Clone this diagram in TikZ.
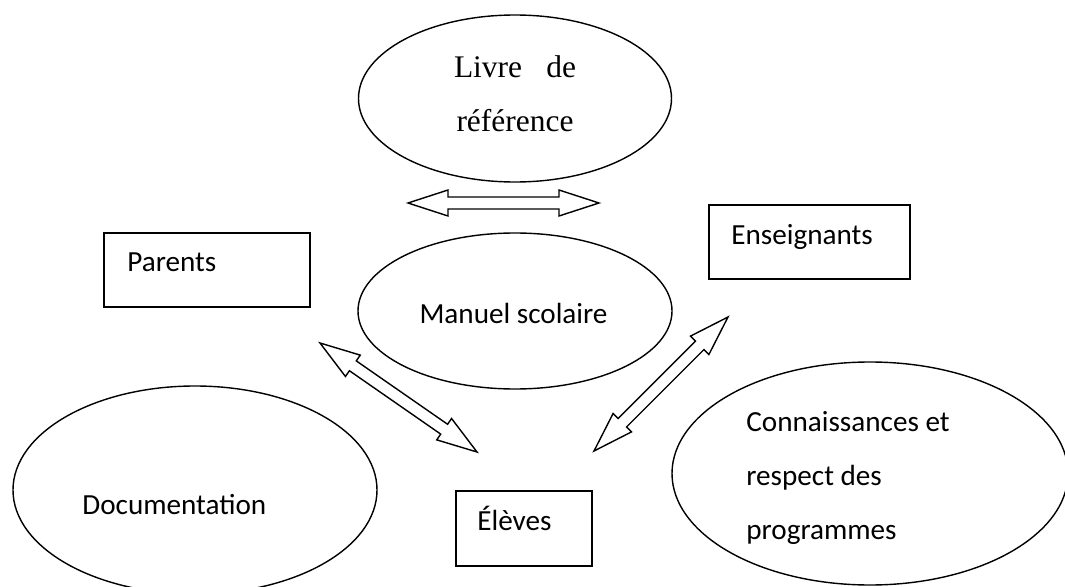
\documentclass[tikz,border=0pt]{standalone}
\usepackage{fontspec}
\setmainfont{Carlito}
\newfontfamily\seriffont{Liberation Serif}
\usetikzlibrary{shapes.geometric, calc}

\tikzset{
    bubble/.style={draw, ellipse, line width=0.8pt, inner sep=0pt},
    box/.style={draw, rectangle, line width=0.8pt, inner sep=0pt},
    lbl/.style={inner sep=0pt, font=\fontsize{16.6}{30.7}\selectfont},
    hollow/.style={draw, line width=0.8pt, line join=miter},
}

\begin{document}
\begin{tikzpicture}[x=0.2mm, y=-0.2mm]
        \useasboundingbox (0,0) rectangle (1065,587);

        \node[bubble, minimum width=62.6mm, minimum height=33.4mm] (ref) at (515,98.5) {};
        \node[bubble, minimum width=62.8mm, minimum height=31.2mm] (manuel) at (515,311) {};
        \node[bubble, minimum width=72.8mm, minimum height=41.6mm] (doc) at (195,490) {};
        \node[bubble, minimum width=79.2mm, minimum height=44.6mm] (prog) at (870,473.5) {};

        \node[box, minimum width=41.2mm, minimum height=14.8mm] (par) at (207,270) {};
        \node[box, minimum width=40.2mm, minimum height=14.8mm] (ens) at (809.5,242) {};
        \node[box, minimum width=27.2mm, minimum height=15mm] (elv) at (524,528.5) {};

        \node[lbl, align=center, font=\seriffont\fontsize{17.9}{30.7}\selectfont] (ref-t) at (515,94)
            {\makebox[24.4mm][s]{Livre de}\\référence};
        \node[lbl, anchor=base] (manuel-t) at (513.5,324) {Manuel scolaire};
        \node[lbl, anchor=base west] (doc-t) at (82,514) {Documentation};
        \node[lbl, anchor=west, align=left] (prog-t) at (746,478)
            {Connaissances et\\respect des\\programmes};
        \node[lbl, anchor=base west] (par-t) at (127,272) {Parents};
        \node[lbl, anchor=base west] (ens-t) at (731,245) {Enseignants};
        \node[lbl, anchor=base west] (elv-t) at (477,530) {Élèves};

        % ends of the hollow double arrows
        \coordinate (ref-l) at (408,203);
        \coordinate (ref-r) at (599,203);
        \coordinate (par-a) at (320,343);
        \coordinate (elv-a) at (477,452);
        \coordinate (elv-b) at (594,451);
        \coordinate (ens-a) at (728,317);

        \foreach \p/\q in {ref-l/ref-r, par-a/elv-a, elv-b/ens-a}
            \draw[hollow] (\p)
                -- ($(\p)!8mm!(\q)!2.6mm!90:(\q)$) -- ($(\p)!8mm!(\q)!1.2mm!90:(\q)$)
                -- ($(\q)!8mm!(\p)!1.2mm!-90:(\p)$) -- ($(\q)!8mm!(\p)!2.6mm!-90:(\p)$)
                -- (\q)
                -- ($(\q)!8mm!(\p)!2.6mm!90:(\p)$) -- ($(\q)!8mm!(\p)!1.2mm!90:(\p)$)
                -- ($(\p)!8mm!(\q)!1.2mm!-90:(\q)$) -- ($(\p)!8mm!(\q)!2.6mm!-90:(\q)$)
                -- cycle;
    \end{tikzpicture}
\end{document}
